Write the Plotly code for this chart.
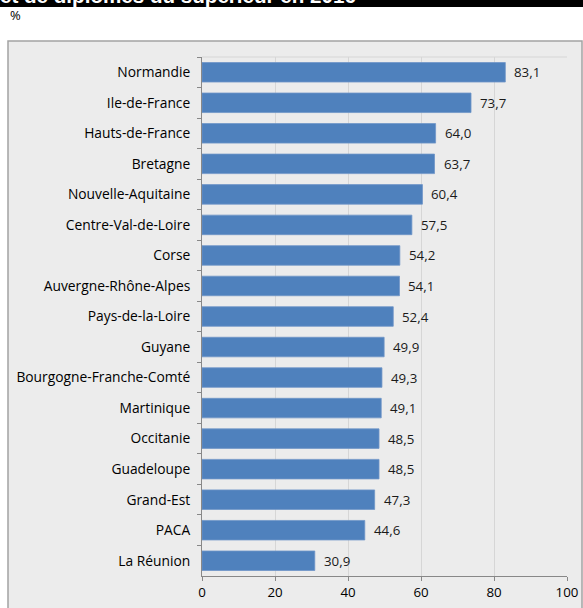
import plotly.graph_objects as go

regions = ["Normandie", "Ile-de-France", "Hauts-de-France", "Bretagne", "Nouvelle-Aquitaine",
           "Centre-Val-de-Loire", "Corse", "Auvergne-Rhône-Alpes", "Pays-de-la-Loire", "Guyane",
           "Bourgogne-Franche-Comté", "Martinique", "Occitanie", "Guadeloupe", "Grand-Est",
           "PACA", "La Réunion"]
values = [83.1, 73.7, 64.0, 63.7, 60.4, 57.5, 54.2, 54.1, 52.4, 49.9, 49.3, 49.1, 48.5, 48.5,
          47.3, 44.6, 30.9]
x_ticks = [0, 20, 40, 60, 80, 100]
title_text = "et de diplômés du supérieur en 2016"
unit_text = "%"

W, H = 583, 608
L, R, T, B = 202, 16, 57, 32
PW, PH = W - L - R, H - T - B


def px(x):
    return (x - L) / PW


def py(y):
    return (H - B - y) / PH


FONT = "Open Sans, Noto Sans, sans-serif"
BAR = "#4f81bd"
BG = "#ececec"

fig = go.Figure(go.Bar(
    x=values, y=regions, orientation="h",
    marker=dict(color=BAR, line=dict(color="#7096c8", width=0.8)),
    hoverinfo="skip",
))

annotations = [
    dict(x=v, y=r, xref="x", yref="y", xanchor="left", yanchor="middle", xshift=7,
         text=f"{v:.1f}".replace(".", ","), showarrow=False,
         font=dict(family=FONT, size=13.3, color="#1a1a1a"))
    for r, v in zip(regions, values)
]
annotations.append(dict(x=px(8), y=py(14.5), xref="paper", yref="paper", xanchor="left",
                        yanchor="middle", text=unit_text, showarrow=False,
                        font=dict(family=FONT, size=13, color="#000")))
annotations.append(dict(x=px(-2), y=py(9.5), xref="paper", yref="paper", xanchor="left",
                        yanchor="bottom", text=f"<b>{title_text}</b>", showarrow=False,
                        font=dict(family="Liberation Sans, Arial, sans-serif", size=20.6,
                                  color="#ffffff")))

shapes = [
    # framed chart area
    dict(type="rect", xref="paper", yref="paper", x0=px(8), x1=px(582), y0=py(H + 20), y1=py(41),
         line=dict(color="#a3a3a3", width=1.5), fillcolor=BG, layer="below"),
    # heading band
    dict(type="rect", xref="paper", yref="paper", x0=px(-5), x1=px(W + 5), y0=py(7), y1=py(-5),
         line=dict(width=0), fillcolor="#000000", layer="below"),
    # top edge of plot area
    dict(type="line", xref="paper", yref="paper", x0=0, x1=1, y0=1, y1=1,
         line=dict(color="#d6d6d6", width=1)),
]

fig.update_layout(
    width=W, height=H, autosize=False,
    margin=dict(l=L, r=R, t=T, b=B, pad=0, autoexpand=False),
    paper_bgcolor="#ffffff", plot_bgcolor=BG,
    bargap=0.36, showlegend=False,
    annotations=annotations, shapes=shapes,
    font=dict(family=FONT, size=12, color="#000"),
    xaxis=dict(range=[0, 100], tickvals=x_ticks, ticktext=[str(t) for t in x_ticks],
               showgrid=True, gridcolor="#d6d6d6", gridwidth=1, zeroline=False,
               showline=True, linecolor="#888888", linewidth=1,
               ticks="outside", ticklen=4, tickcolor="#888888", automargin=False,
               tickfont=dict(family=FONT, size=13.3, color="#000"), fixedrange=True),
    yaxis=dict(autorange="reversed", type="category", showgrid=False, zeroline=False,
               showline=True, linecolor="#888888", linewidth=1,
               ticks="outside", ticklen=4, tickcolor="#888888", tickson="boundaries",
               ticklabelstandoff=8, automargin=False,
               tickfont=dict(family=FONT, size=13.8, color="#000"), fixedrange=True),
)

fig.write_html("out.html", config={"responsive": False, "displayModeBar": False})
